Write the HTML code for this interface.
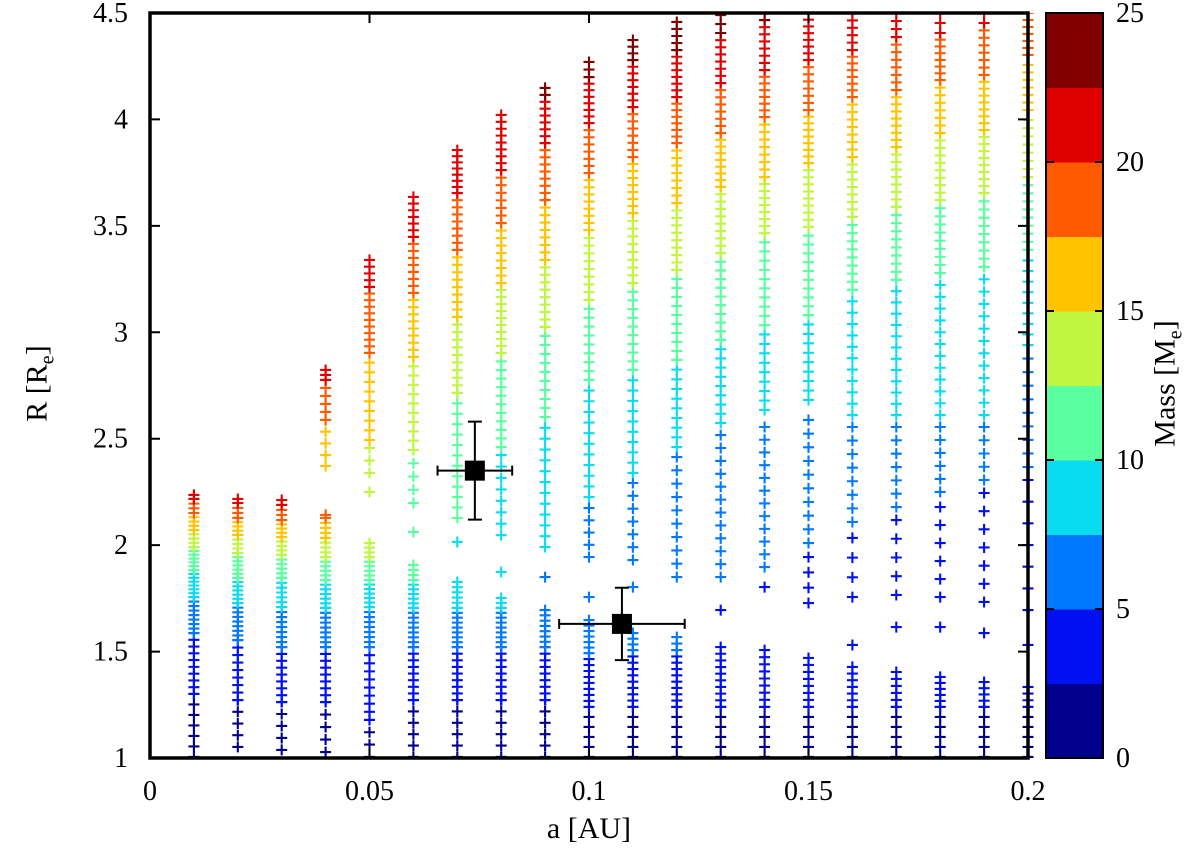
<!DOCTYPE html>
<html><head><meta charset="utf-8"><style>
html,body{margin:0;padding:0;background:#fff;}
svg{display:block;font-family:"Liberation Serif",serif;}
</style></head><body>
<svg id="chart" width="1200" height="858" viewBox="0 0 1200 858">
<g id="marks"></g>
<g id="axes"></g>
<g id="cbar"></g>
</svg>
<script>
// ---- data ----
const aValues = [0.01,0.02,0.03,0.04,0.05,0.06,0.07,0.08,0.09,0.10,0.11,0.12,0.13,0.14,0.15,0.16,0.17,0.18,0.19,0.20];
const massBandColors = ["#00008c","#0010f0","#0078ff","#0adcf0","#5affa0","#c0f540","#ffc300","#ff5a00","#e00000","#800000"];
const massTicks = [0,5,10,15,20,25];
const xTicks = [0,0.05,0.1,0.15,0.2];
const xTickLabels = ["0","0.05","0.1","0.15","0.2"];
const yTicks = [1,1.5,2,2.5,3,3.5,4,4.5];
const yTickLabels = ["1","1.5","2","2.5","3","3.5","4","4.5"];
// segments per column: [R low, R high, mass band, number of crosses]
const col001 = [[1.005,1.301,0,7],[1.301,1.587,1,10],[1.587,1.756,2,9],[1.756,1.883,3,8],[1.883,1.991,4,7],[1.991,2.071,5,5],[2.071,2.151,6,5],[2.151,2.217,7,4],[2.217,2.236,8,2]];
const col002 = [[1.052,1.272,0,5],[1.272,1.554,1,9],[1.554,1.728,2,9],[1.728,1.846,3,7],[1.846,1.963,4,7],[1.963,2.048,5,5],[2.048,2.128,6,5],[2.128,2.198,7,4],[2.198,2.217,8,2]];
const col003 = [[1.038,1.263,0,5],[1.263,1.521,1,9],[1.521,1.709,2,9],[1.709,1.846,3,7],[1.846,1.954,4,6],[1.954,2.038,5,5],[2.038,2.118,6,5],[2.118,2.189,7,4],[2.189,2.212,8,2]];
const col004 = [[1.028,1.263,0,5],[1.263,1.521,1,9],[1.521,1.705,2,9],[1.705,1.836,3,7],[1.836,1.944,4,6],[1.944,2.034,5,5],[2.034,2.128,6,5],[2.128,2.142,7,2],[2.372,2.372,6,1],[2.423,2.588,6,4],[2.588,2.776,7,6],[2.776,2.823,8,3]];
const col005 = [[1.005,1.179,0,4],[1.179,1.521,1,10],[1.521,1.709,2,9],[1.709,1.836,3,7],[1.836,1.944,4,6],[1.944,2.010,5,4],[2.250,2.250,5,1],[2.339,2.456,5,3],[2.494,2.903,6,10],[2.903,3.213,7,11],[3.213,3.340,8,5]];
const col006 = [[1.005,1.272,0,6],[1.272,1.521,1,9],[1.521,1.705,2,9],[1.705,1.836,3,7],[1.836,1.907,4,4],[2.062,2.062,4,1],[2.198,2.447,4,5],[2.447,2.884,5,11],[2.884,3.185,6,10],[3.185,3.448,7,9],[3.448,3.636,8,7]];
const col007 = [[1.005,1.272,0,6],[1.272,1.521,1,9],[1.521,1.705,2,9],[1.705,1.827,3,6],[2.015,2.015,3,1],[2.128,2.715,4,13],[2.715,3.072,5,11],[3.072,3.387,6,10],[3.387,3.654,7,9],[3.654,3.856,8,8]];
const col008 = [[1.005,1.272,0,6],[1.272,1.521,1,9],[1.521,1.705,2,9],[1.705,1.752,3,3],[1.874,1.874,3,1],[2.047,2.423,3,8],[2.461,2.903,4,12],[2.903,3.231,5,11],[3.231,3.513,6,9],[3.513,3.762,7,8],[3.762,4.021,8,9]];
const col009 = [[1.005,1.272,0,6],[1.272,1.521,1,9],[1.521,1.695,2,8],[1.850,1.850,2,1],[1.991,2.602,3,13],[2.602,3.025,4,11],[3.025,3.340,5,10],[3.340,3.621,6,9],[3.621,3.889,7,9],[3.889,4.115,8,8],[4.115,4.148,9,2]];
const col010 = [[1.005,1.240,0,6],[1.240,1.493,1,10],[1.493,1.648,2,7],[1.756,1.756,2,1],[1.944,2.174,2,5],[2.226,2.776,3,12],[2.776,3.152,4,10],[3.152,3.480,5,10],[3.480,3.748,6,9],[3.748,3.983,7,8],[3.983,4.199,8,8],[4.199,4.270,9,3]];
const col011 = [[1.005,1.240,0,6],[1.240,1.507,1,10],[1.507,1.587,2,4],[1.803,1.803,2,1],[1.930,2.292,2,7],[2.339,2.823,3,11],[2.823,3.231,4,11],[3.231,3.560,5,10],[3.560,3.823,6,9],[3.823,4.058,7,8],[4.058,4.279,8,8],[4.279,4.373,9,4]];
const col012 = [[1.005,1.240,0,6],[1.240,1.507,1,10],[1.507,1.568,2,3],[1.850,2.414,2,10],[2.461,2.870,3,10],[2.870,3.293,4,11],[3.293,3.607,5,10],[3.607,3.889,6,9],[3.889,4.105,7,8],[4.105,4.326,8,8],[4.326,4.458,9,5]];
const col013 = [[1.005,1.240,0,6],[1.240,1.521,1,10],[1.695,1.695,1,1],[1.850,2.517,2,12],[2.574,2.964,3,10],[2.964,3.372,4,11],[3.372,3.683,5,10],[3.683,3.936,6,9],[3.936,4.171,7,8],[4.171,4.406,8,8],[4.406,4.490,9,3]];
const col014 = [[1.005,1.240,0,6],[1.240,1.507,1,9],[1.803,1.803,1,1],[1.897,2.555,2,12],[2.635,3.034,3,10],[3.034,3.466,4,11],[3.466,3.729,5,9],[3.729,4.011,6,9],[4.011,4.232,7,8],[4.232,4.467,8,8],[4.467,4.500,9,2]];
const col015 = [[1.005,1.240,0,6],[1.240,1.470,1,8],[1.728,1.944,1,4],[2.010,2.588,2,10],[2.682,3.081,3,10],[3.081,3.495,4,11],[3.495,3.795,5,10],[3.795,4.044,6,9],[4.044,4.279,7,8],[4.279,4.500,8,8]];
const col016 = [[1.005,1.240,0,6],[1.240,1.428,1,7],[1.531,1.531,1,1],[1.756,2.034,1,4],[2.109,2.555,2,8],[2.611,3.199,3,12],[3.199,3.542,4,10],[3.542,3.823,5,9],[3.823,4.105,6,9],[4.105,4.326,7,8],[4.326,4.500,8,6]];
const col017 = [[1.005,1.240,0,6],[1.240,1.404,1,6],[1.615,1.615,1,1],[1.766,2.118,1,5],[2.179,2.555,2,7],[2.611,3.246,3,13],[3.246,3.589,4,10],[3.589,3.870,5,9],[3.870,4.138,6,9],[4.138,4.387,7,8],[4.387,4.500,8,4]];
const col018 = [[1.005,1.240,0,6],[1.240,1.381,1,6],[1.615,1.615,1,1],[1.756,2.179,1,6],[2.250,2.555,2,6],[2.611,3.278,3,13],[3.278,3.621,4,10],[3.621,3.936,5,10],[3.936,4.185,6,8],[4.185,4.406,7,8],[4.406,4.500,8,3]];
const col019 = [[1.005,1.240,0,6],[1.240,1.357,1,5],[1.587,1.587,1,1],[1.733,2.245,1,7],[2.306,2.555,2,5],[2.611,3.307,3,13],[3.307,3.654,4,10],[3.654,3.950,5,10],[3.950,4.209,6,9],[4.209,4.453,7,8],[4.453,4.500,8,2]];
const col020 = [[1.005,1.240,0,6],[1.240,1.334,1,4],[1.531,1.531,1,1],[1.695,2.306,1,7],[2.367,2.940,2,10],[2.940,3.387,3,10],[3.387,3.729,4,10],[3.729,3.997,5,8],[4.044,4.256,6,7],[4.303,4.500,7,7]];
const columns = [col001,col002,col003,col004,col005,col006,col007,col008,col009,col010,col011,col012,col013,col014,col015,col016,col017,col018,col019,col020];
// observed planets: a, R, a error, R error
const obsA = [0.074,0.1075];
const obsR = [2.35,1.63];
const obsAErr = [0.0085,0.0143];
const obsRErr = [0.23,0.17];

// ---- scales ----
const X0=150,X1=1028,Y0=758,Y1=13;
const xS = a => X0 + (a-0)/(0.2-0)*(X1-X0);
const yS = r => Y0 - (r-1)/(4.5-1)*(Y0-Y1);
const CB = {x:1046,w:57};
const cS = m => Y0 - m/25*(Y0-Y1);
const NS="http://www.w3.org/2000/svg";
function mk(tag, attrs, parent){const e=document.createElementNS(NS,tag);for(const k in attrs)e.setAttribute(k,attrs[k]);parent.appendChild(e);return e;}
const marks=document.getElementById('marks'), axes=document.getElementById('axes'), cbar=document.getElementById('cbar');

const defs=mk('defs',{},document.getElementById('chart'));
const cp=mk('clipPath',{id:'pc'},defs);mk('rect',{x:X0-8,y:Y1,width:X1-X0+16,height:Y0-Y1},cp);
marks.setAttribute('clip-path','url(#pc)');

columns.forEach((segs,ci)=>{
  const x=xS(aValues[ci]);
  const g=mk('g',{},marks);
  
  
  segs.forEach(s=>{
    const [lo,hi,band,n]=s;
    for(let i=0;i<n;i++){
      const r = n>1 ? lo+(hi-lo)*i/(n-1) : lo;
      const y=yS(r), h=5.5;
      const p=mk('path',{d:`M${x-h},${y}H${x+h}M${x},${y-h}V${y+h}`,stroke:massBandColors[band],'stroke-width':2.1,fill:'none'},g);
      
      
    }
  });
});

obsA.forEach((a,i)=>{
  const cx=xS(a), cy=yS(obsR[i]);
  const g=mk('g',{stroke:'#000','stroke-width':2,fill:'none'},marks);
  
  
  const xl=xS(a-obsAErr[i]), xr=xS(a+obsAErr[i]), yt=yS(obsR[i]+obsRErr[i]), yb=yS(obsR[i]-obsRErr[i]);
  mk('path',{d:`M${xl},${cy}H${xr}M${xl},${cy-5}V${cy+5}M${xr},${cy-5}V${cy+5}M${cx},${yt}V${yb}M${cx-7},${yt}H${cx+7}M${cx-7},${yb}H${cx+7}`},g);
  mk('rect',{x:cx-10,y:cy-10,width:20,height:20,fill:'#000',stroke:'none'},g);
});

const fr=mk('rect',{x:X0,y:Y1,width:X1-X0,height:Y0-Y1,fill:'none',stroke:'#000','stroke-width':3.5},axes);


xTicks.forEach((t,i)=>{
  const x=xS(t);
  mk('path',{d:`M${x},${Y0}V${Y0-10}M${x},${Y1}V${Y1+10}`,stroke:'#000','stroke-width':2},axes);
  const tx=mk('text',{x:x,y:800,'font-size':28,'text-anchor':'middle',fill:'#000'},axes);
  tx.textContent=xTickLabels[i];
  
  
});
yTicks.forEach((t,i)=>{
  const y=yS(t);
  mk('path',{d:`M${X0},${y}H${X0+10}M${X1},${y}H${X1-10}`,stroke:'#000','stroke-width':2},axes);
  const tx=mk('text',{x:128,y:y+9,'font-size':28,'text-anchor':'end',fill:'#000'},axes);
  tx.textContent=yTickLabels[i];
  
  
});

massBandColors.forEach((c,i)=>{
  const r=mk('rect',{x:CB.x,y:cS((i+1)*2.5),width:CB.w,height:cS(i*2.5)-cS((i+1)*2.5)+0.5,fill:c},cbar);
  
  
});
mk('rect',{x:CB.x,y:Y1,width:CB.w,height:Y0-Y1,fill:'none',stroke:'#000','stroke-width':2},cbar);
massTicks.forEach(m=>{
  const y=cS(m);
  if(m>0&&m<25) mk('path',{d:`M${CB.x},${y}H${CB.x+8}M${CB.x+CB.w},${y}H${CB.x+CB.w-8}`,stroke:'#000','stroke-width':2},cbar);
  const tx=mk('text',{x:1116,y:y+9,'font-size':28,fill:'#000'},cbar);
  tx.textContent=String(m);
  
  
});
</script>
<div style="position:absolute;left:0;top:0;width:1200px;height:858px;pointer-events:none;font-family:'Liberation Serif',serif;color:#000;">
  <div style="position:absolute;left:519px;top:812px;width:140px;text-align:center;font-size:30px;">a [AU]</div>
  <div style="position:absolute;left:-30px;top:364px;width:140px;text-align:center;font-size:30px;transform:rotate(-90deg);">R [R<sub style="font-size:20px">e</sub>]</div>
  <div style="position:absolute;left:1088px;top:364px;width:160px;text-align:center;font-size:30px;transform:rotate(-90deg);">Mass [M<sub style="font-size:20px">e</sub>]</div>
</div>
</body></html>
